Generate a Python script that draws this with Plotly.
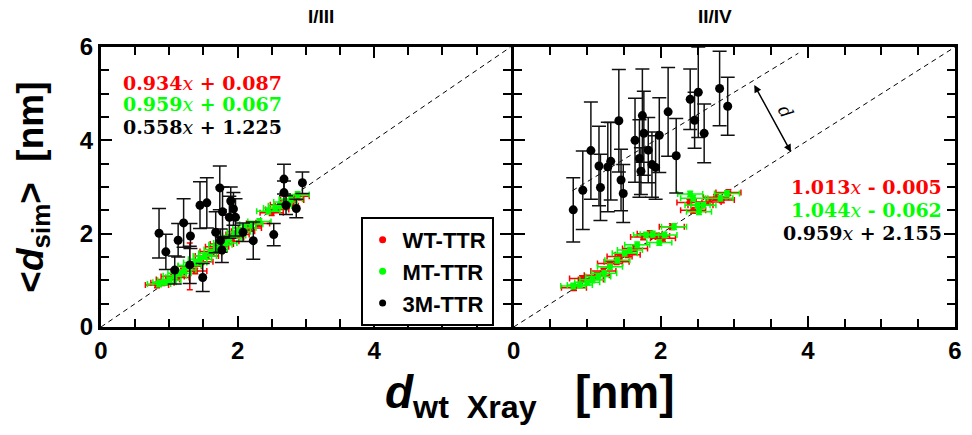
import plotly.graph_objects as go

# ---------------- data ----------------
# Panel I/III
x_wt_L = [0.82, 0.90, 0.98, 1.05, 1.12, 1.20, 1.30, 1.38, 1.47, 1.55, 1.62, 1.70, 1.77, 1.85, 1.92, 2.00, 2.08, 2.18, 2.30, 2.50, 2.58, 2.65, 2.72, 2.80, 2.88]
y_wt_L = [0.90, 0.95, 1.02, 1.08, 1.06, 1.20, 1.30, 1.20, 1.40, 1.52, 1.62, 1.72, 1.78, 1.84, 1.92, 1.98, 2.05, 2.12, 2.22, 2.45, 2.52, 2.62, 2.60, 2.72, 2.80]
ey_wt_L = [0.06, 0.06, 0.06, 0.06, 0.06, 0.06, 0.50, 0.06, 0.06, 0.06, 0.06, 0.06, 0.06, 0.06, 0.06, 0.06, 0.06, 0.06, 0.06, 0.06, 0.06, 0.06, 0.06, 0.06, 0.06]

x_mt_L = [0.85, 0.93, 1.00, 1.08, 1.15, 1.22, 1.30, 1.38, 1.45, 1.52, 1.60, 1.68, 1.75, 1.82, 1.88, 1.95, 2.02, 2.10, 2.20, 2.32, 2.45, 2.55, 2.62, 2.70, 2.78, 2.88]
y_mt_L = [0.92, 0.96, 1.00, 1.10, 1.15, 1.22, 1.32, 1.38, 1.45, 1.52, 1.58, 1.66, 1.76, 1.80, 1.90, 1.96, 2.04, 2.12, 2.20, 2.26, 2.48, 2.55, 2.60, 2.68, 2.74, 2.84]

x_3m_L = [0.85, 0.95, 1.08, 1.13, 1.21, 1.31, 1.30, 1.49, 1.45, 1.55, 1.74, 1.68, 1.78, 1.75, 1.77, 1.88, 1.90, 1.94, 1.97, 2.08, 2.23, 2.53, 2.68, 2.68, 2.71, 2.95, 2.86]
y_3m_L = [2.01, 1.61, 1.22, 1.86, 2.23, 1.95, 1.33, 1.06, 2.61, 2.66, 2.98, 2.03, 2.47, 1.85, 1.65, 2.35, 2.70, 2.53, 2.35, 2.03, 1.85, 1.98, 3.17, 2.88, 2.61, 3.09, 2.54]
e_3m_L = [0.53, 0.38, 0.30, 0.36, 0.52, 0.27, 0.40, 0.30, 0.50, 0.54, 0.47, 0.44, 0.53, 0.25, 0.27, 0.45, 0.30, 0.35, 0.40, 0.20, 0.40, 0.24, 0.32, 0.25, 0.20, 0.23, 0.20]

# Panel II/IV
x_wt_R = [0.82, 0.93, 1.05, 1.13, 1.22, 1.31, 1.40, 1.44, 1.55, 1.65, 1.76, 1.85, 1.95, 2.03, 2.15, 2.39, 2.44, 2.54, 2.65, 2.75, 2.83, 2.92]
y_wt_R = [0.84, 1.04, 1.02, 1.11, 1.20, 1.36, 1.40, 1.51, 1.55, 1.68, 1.93, 2.00, 1.95, 1.90, 2.15, 2.67, 2.50, 2.61, 2.68, 2.78, 2.72, 2.88]

x_mt_R = [0.81, 0.90, 1.00, 1.07, 1.15, 1.23, 1.31, 1.41, 1.51, 1.58, 1.68, 1.80, 1.89, 1.98, 2.05, 2.18, 2.40, 2.44, 2.50, 2.52, 2.58, 2.81, 2.90]
y_mt_R = [0.88, 0.90, 0.96, 1.01, 1.08, 1.15, 1.29, 1.43, 1.58, 1.65, 1.76, 1.97, 1.99, 1.81, 1.97, 2.15, 2.85, 2.76, 2.61, 2.47, 2.61, 2.76, 2.86]

x_3m_R = [0.81, 0.94, 1.05, 1.16, 1.18, 1.28, 1.32, 1.43, 1.46, 1.49, 1.65, 1.71, 1.73, 1.75, 1.77, 1.83, 1.88, 1.93, 1.98, 2.10, 2.21, 2.40, 2.46, 2.51, 2.59, 2.80, 2.91]
y_3m_R = [2.51, 2.93, 3.78, 3.45, 2.99, 3.43, 3.55, 4.42, 3.15, 2.86, 4.00, 3.61, 3.34, 4.53, 4.15, 3.79, 3.48, 3.42, 4.11, 4.61, 3.67, 4.88, 4.43, 5.03, 4.15, 5.11, 4.73]
e_3m_R = [0.69, 0.84, 1.04, 0.85, 0.71, 0.96, 0.83, 1.10, 0.66, 0.62, 0.90, 0.83, 0.50, 1.00, 0.90, 0.70, 0.70, 0.68, 0.80, 0.95, 0.80, 0.65, 0.60, 0.97, 0.63, 0.80, 0.62]

xerr_rg = 0.17
yerr_rg = 0.06

diag = [0, 6]
fit3m_x = [0.80, 3.87]
fit3m_slope, fit3m_icpt = 0.959, 2.155

eq_L = [("0.934", "+ 0.087", "#ff0000"), ("0.959", "+ 0.067", "#00ff00"), ("0.558", "+ 1.225", "#000000")]
eq_R = [("1.013", "- 0.005", "#ff0000"), ("1.044", "- 0.062", "#00ff00"), ("0.959", "+ 2.155", "#000000")]
eq_L_y = [5.22, 4.77, 4.28]
eq_R_y = [3.00, 2.51, 2.01]

x_ticks_L = [0, 2, 4]
x_ticks_R = [0, 2, 4, 6]
y_ticks = [0, 2, 4, 6]

RED, GREEN, BLACK = "#ff0000", "#00ff00", "#000000"
SANS = "Liberation Sans, Arial, sans-serif"
SERIF = "DejaVu Serif, serif"

fig = go.Figure()

def rg_trace(x, y, color, xa, ya, ey=None):
    return go.Scatter(
        x=x, y=y, mode="markers", xaxis=xa, yaxis=ya, showlegend=False,
        marker=dict(color=color, size=6),
        error_x=dict(type="constant", value=xerr_rg, color=color, thickness=1.5, width=3),
        error_y=(dict(type="data", array=ey, color=color, thickness=1.5, width=3) if ey is not None
                 else dict(type="constant", value=yerr_rg, color=color, thickness=1.5, width=3)),
    )

def bk_trace(x, y, e, xa, ya):
    return go.Scatter(
        x=x, y=y, mode="markers", xaxis=xa, yaxis=ya, showlegend=False,
        marker=dict(color=BLACK, size=9),
        error_y=dict(type="data", array=e, color="#111111", thickness=1.5, width=7),
    )

# diagonal lines
for xa, ya in (("x", "y"), ("x2", "y2")):
    fig.add_trace(go.Scatter(x=diag, y=diag, mode="lines", xaxis=xa, yaxis=ya, showlegend=False,
                             line=dict(color="black", width=1, dash="5px,4px"), hoverinfo="skip"))
# fit line 3M in right panel
fig.add_trace(go.Scatter(x=fit3m_x, y=[fit3m_slope * v + fit3m_icpt for v in fit3m_x], mode="lines",
                         xaxis="x2", yaxis="y2", showlegend=False,
                         line=dict(color="black", width=1, dash="5px,4px"), hoverinfo="skip"))

fig.add_trace(rg_trace(x_wt_L, y_wt_L, RED, "x", "y", ey_wt_L))
fig.add_trace(rg_trace(x_mt_L, y_mt_L, GREEN, "x", "y"))
fig.add_trace(bk_trace(x_3m_L, y_3m_L, e_3m_L, "x", "y"))
fig.add_trace(rg_trace(x_wt_R, y_wt_R, RED, "x2", "y2"))
fig.add_trace(rg_trace(x_mt_R, y_mt_R, GREEN, "x2", "y2"))
fig.add_trace(bk_trace(x_3m_R, y_3m_R, e_3m_R, "x2", "y2"))

# legend entries
for name, color in (("WT-TTR", RED), ("MT-TTR", GREEN), ("3M-TTR", BLACK)):
    fig.add_trace(go.Scatter(x=[None], y=[None], mode="markers", name=name,
                             marker=dict(color=color, size=7)))

TICKFONT = dict(family=SANS, size=24, color="black", weight="bold")
MINOR = dict(dtick=0.5, ticks="inside", ticklen=8, tickwidth=2, tickcolor="black")

def axis_cfg(**kw):
    d = dict(range=[0, 6], ticks="inside", ticklen=11, tickwidth=2, tickcolor="black",
             minor=MINOR, showline=True, linewidth=3, linecolor="black", mirror="allticks",
             showgrid=False, zeroline=False, tickfont=TICKFONT)
    d.update(kw)
    return d

fig.update_layout(
    width=972, height=435,
    margin=dict(l=101, r=10, t=47, b=108),
    paper_bgcolor="white", plot_bgcolor="white",
    xaxis=axis_cfg(domain=[0, 0.4797], tickvals=x_ticks_L, anchor="y"),
    xaxis2=axis_cfg(domain=[0.4832, 1], tickvals=x_ticks_R, anchor="y2"),
    yaxis=axis_cfg(domain=[0, 1], tickvals=y_ticks, anchor="x"),
    yaxis2=axis_cfg(domain=[0, 1], tickvals=y_ticks, anchor="x2", showticklabels=False),
    legend=dict(x=0.304, y=0.393, xanchor="left", yanchor="top",
                bordercolor="black", borderwidth=2, bgcolor="white",
                font=dict(family=SANS, size=22, color="black", weight="bold"),
                itemwidth=30, tracegroupgap=0),
    showlegend=True,
)

ann = []
# panel titles
ann.append(dict(text="<b>I/III</b>", xref="paper", yref="paper", x=0.2398, y=1.155, showarrow=False,
                font=dict(family=SANS, size=19, color="black")))
ann.append(dict(text="<b>II/IV</b>", xref="paper", yref="paper", x=0.7416, y=1.155, showarrow=False,
                font=dict(family=SANS, size=19, color="black")))
# axis titles
ann.append(dict(text="<b>&lt;<i>d</i><sub>sim</sub>&gt;  [nm]</b>", xref="paper", yref="paper",
                x=-0.08, y=0.5, textangle=-90, showarrow=False, xanchor="center", yanchor="middle",
                font=dict(family=SANS, size=37, color="black")))
ann.append(dict(text="<b><i>d</i><sub>wt  Xray</sub>   [nm]</b>", xref="paper", yref="paper",
                x=0.502, y=-0.245, showarrow=False, xanchor="center", yanchor="middle",
                font=dict(family=SANS, size=46, color="black")))
# equations
for (a, b, c), yy in zip(eq_L, eq_L_y):
    ann.append(dict(text=f"<b>{a}</b><i>x</i><b> {b}</b>", xref="x", yref="y", x=0.3, y=yy,
                    xanchor="left", yanchor="middle", showarrow=False,
                    font=dict(family=SERIF, size=19, color=c)))
for (a, b, c), yy in zip(eq_R, eq_R_y):
    ann.append(dict(text=f"<b>{a}</b><i>x</i><b> {b}</b>", xref="x2", yref="y2", x=5.85, y=yy,
                    xanchor="right", yanchor="middle", showarrow=False,
                    font=dict(family=SERIF, size=19, color=c)))
# distance arrow
ann.append(dict(x=3.77, y=3.75, ax=3.26, ay=5.22, xref="x2", yref="y2", axref="x2", ayref="y2",
                text="", showarrow=True, arrowhead=2, startarrowhead=2, arrowside="end+start",
                arrowsize=1, startarrowsize=1, arrowwidth=1.5, arrowcolor="black"))
ann.append(dict(text="<i>d</i>", xref="x2", yref="y2", x=3.70, y=4.62, showarrow=False, textangle=61,
                font=dict(family=SERIF, size=18, color="black")))
fig.update_layout(annotations=ann)

fig.write_html("out.html")
